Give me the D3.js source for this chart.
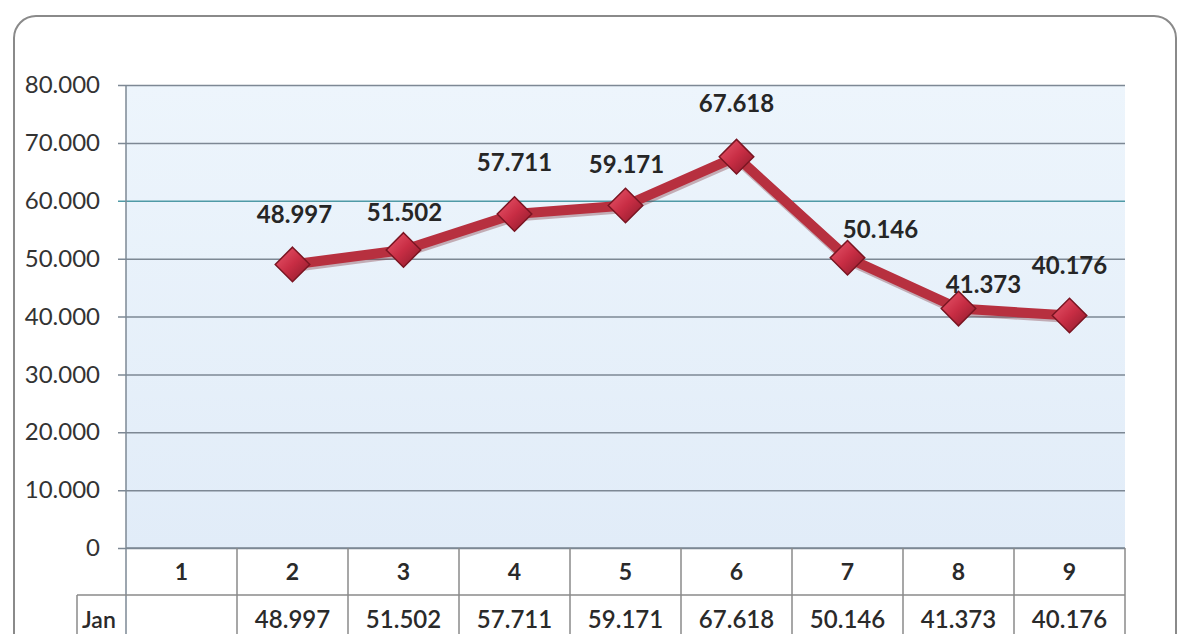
<!DOCTYPE html>
<html>
<head>
<meta charset="utf-8">
<script src="https://cdn.jsdelivr.net/npm/d3@7"></script>
<style>
  html, body { margin: 0; padding: 0; background: #fff; }
  svg { display: block; }
</style>
</head>
<body>
<svg id="chart" width="1179" height="634"></svg>
<script>
// chart data
const categories = ['1', '2', '3', '4', '5', '6', '7', '8', '9']
const seriesName = 'Jan'
const values = [null, 48.997, 51.502, 57.711, 59.171, 67.618, 50.146, 41.373, 40.176]
const yTicks = [0, 10, 20, 30, 40, 50, 60, 70, 80]

// hand-placed label nudges (like the original chart)
const labelNudge = [
  [0, 0], [2, -50], [1, -38], [0, -52], [1, -42], [0, -54], [33, -29], [25, -25], [0, -50]
]

const width = 1179
const height = 634
const margin = { top: 85, right: 54, bottom: 86, left: 126 }
const plotW = width - margin.left - margin.right
const plotH = height - margin.top - margin.bottom

const fmt = v => v === 0 ? '0' : d3.format('.3f')(v)

const svg = d3.select('#chart')
const defs = svg.append('defs')

const bg = defs.append('linearGradient').attr('id', 'bg')
  .attr('x1', 0).attr('y1', 0).attr('x2', 0).attr('y2', 1)
bg.append('stop').attr('offset', '0%').attr('stop-color', '#edf5fc')
bg.append('stop').attr('offset', '100%').attr('stop-color', '#e1ecf8')

const dia = defs.append('linearGradient').attr('id', 'dia')
  .attr('x1', 0).attr('y1', 0).attr('x2', 1).attr('y2', 1)
dia.append('stop').attr('offset', '0%').attr('stop-color', '#ea5a6e')
dia.append('stop').attr('offset', '50%').attr('stop-color', '#c82d44')
dia.append('stop').attr('offset', '100%').attr('stop-color', '#8a1a2a')

// outer rounded frame
svg.append('rect')
  .attr('x', 14).attr('y', 16)
  .attr('width', 1162).attr('height', 640)
  .attr('rx', 22)
  .style('fill', '#fff')
  .style('stroke', '#8a8a8a')
  .style('stroke-width', 2)

const g = svg.append('g').attr('transform', `translate(${margin.left},${margin.top})`)

const x = d3.scaleBand().domain(categories).range([0, plotW]).paddingInner(0).paddingOuter(0)
const y = d3.scaleLinear().domain([0, 80]).range([plotH, 0])
const cx = c => x(c) + x.bandwidth() / 2

// plot background
g.append('rect')
  .attr('width', plotW).attr('height', plotH)
  .style('fill', 'url(#bg)')

// gridlines + ticks
const yAxis = d3.axisLeft(y).tickValues(yTicks).tickFormat(fmt)
const ya = g.append('g').call(yAxis)
ya.select('.domain').remove()
ya.selectAll('.tick line')
  .attr('x1', -8)
  .attr('x2', plotW)
  .style('stroke', d => d === 60 ? '#4f9aa6' : '#7d8894')
  .style('stroke-width', 1.5)
ya.selectAll('.tick text')
  .attr('x', -26)
  .style('font-family', 'Lato, "Open Sans", sans-serif')
  .style('font-size', '24px')
  .style('fill', '#333')

// vertical axis line
g.append('line')
  .attr('x1', 0).attr('x2', 0)
  .attr('y1', 0).attr('y2', height - margin.top)
  .style('stroke', '#7d8894')
  .style('stroke-width', 1.5)

// data table
const rowH = 47
const table = g.append('g').attr('transform', `translate(0,${plotH})`)
table.append('line')
  .attr('x1', 0).attr('x2', plotW).attr('y1', 0).attr('y2', 0)
  .style('stroke', '#7d8894').style('stroke-width', 1.5)
table.append('line')
  .attr('x1', -49).attr('x2', plotW).attr('y1', rowH).attr('y2', rowH)
  .style('stroke', '#8a8a8a').style('stroke-width', 1.5)
table.append('line')
  .attr('x1', -49).attr('x2', -49).attr('y1', rowH).attr('y2', 200)
  .style('stroke', '#8a8a8a').style('stroke-width', 1.5)
table.selectAll('.col-line')
  .data(categories)
  .join('line')
  .attr('class', 'col-line')
  .attr('x1', d => x(d) + x.bandwidth()).attr('x2', d => x(d) + x.bandwidth())
  .attr('y1', 0).attr('y2', 200)
  .style('stroke', '#8a8a8a').style('stroke-width', 1.5)

table.selectAll('.cat')
  .data(categories)
  .join('text')
  .attr('class', 'cat')
  .attr('x', d => cx(d))
  .attr('y', rowH / 2 + 8)
  .attr('text-anchor', 'middle')
  .style('font-family', 'Lato, "Open Sans", sans-serif')
  .style('font-weight', 'bold')
  .style('font-size', '23px')
  .style('fill', '#2a2a2a')
  .text(d => d)

table.append('text')
  .attr('x', -44)
  .attr('y', rowH + 33)
  .style('font-family', 'Lato, "Open Sans", sans-serif')
  .style('font-weight', '600')
  .style('font-size', '23px')
  .style('fill', '#2a2a2a')
  .text(seriesName)

table.selectAll('.val')
  .data(categories)
  .join('text')
  .attr('class', 'val')
  .attr('x', d => cx(d))
  .attr('y', rowH + 33)
  .attr('text-anchor', 'middle')
  .style('font-family', 'Lato, "Open Sans", sans-serif')
  .style('font-weight', '600')
  .style('font-size', '24px')
  .style('fill', '#2a2a2a')
  .text((d, i) => values[i] == null ? '' : fmt(values[i]))

// series
const pts = categories.map((c, i) => ({ c, v: values[i], i })).filter(d => d.v != null)

const line = d3.line().x(d => cx(d.c)).y(d => y(d.v))

g.append('path')
  .datum(pts)
  .attr('d', line)
  .attr('transform', 'translate(1,2)')
  .style('fill', 'none')
  .style('stroke', '#7a2a33')
  .style('stroke-opacity', 0.35)
  .style('stroke-width', 11)
  .style('stroke-linejoin', 'round')

g.append('path')
  .datum(pts)
  .attr('d', line)
  .style('fill', 'none')
  .style('stroke', '#b7303f')
  .style('stroke-width', 10)
  .style('stroke-linejoin', 'round')

const diamond = d3.symbol().type(d3.symbolDiamond2).size(760)
g.selectAll('.marker')
  .data(pts)
  .join('path')
  .attr('class', 'marker')
  .attr('d', diamond)
  .attr('transform', d => `translate(${cx(d.c)},${y(d.v)})`)
  .style('fill', 'url(#dia)')
  .style('stroke', '#7a1522')
  .style('stroke-width', 1.5)

g.selectAll('.lbl')
  .data(pts)
  .join('text')
  .attr('class', 'lbl')
  .attr('x', d => cx(d.c) + labelNudge[d.i][0])
  .attr('y', d => y(d.v) + labelNudge[d.i][1] + 9)
  .attr('text-anchor', 'middle')
  .style('font-family', 'Lato, "Open Sans", sans-serif')
  .style('font-weight', 'bold')
  .style('font-size', '24px')
  .style('fill', '#262626')
  .text(d => fmt(d.v))
</script>
</body>
</html>
